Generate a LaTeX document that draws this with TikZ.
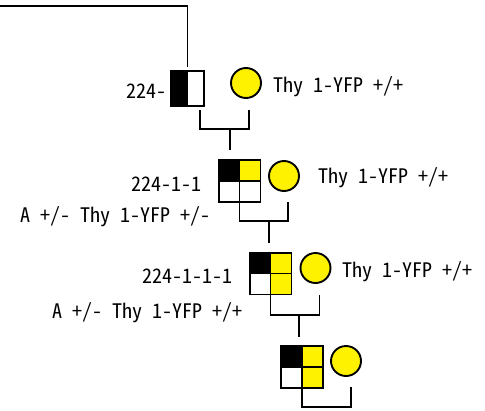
\documentclass[tikz,border=0pt]{standalone}
\usepackage{fontspec}
\newfontfamily\jpfont[RawFeature=+hwid]{Noto Sans CJK JP}
\begin{document}
\begin{tikzpicture}[x=1pt,y=-1pt,line width=1.9pt,
  every node/.style={font=\jpfont\fontsize{20}{24}\selectfont,inner sep=0pt},
  male/.style={rectangle,minimum size=40pt},
  female/.style={draw,circle,fill=yellow,minimum size=30pt}]
\useasboundingbox (0,0) rectangle (485,410);
% first generation
\node[male,minimum width=31pt,minimum height=33pt] (m1) at (187.5,88.5) {};
\fill (m1.north west) rectangle (m1.south);
\draw (m1.north west) rectangle (m1.south east);
\node[female] (f1) at (246,83) {};
\node[anchor=base east] at (167,98) {224-};
\node[anchor=base west] at (273,92) {Thy 1-YFP +/+};
\coordinate (origin) at (0,6);
\draw[shorten >=4pt] (origin) -| (m1.north);
\coordinate (j1) at (230,129);
\draw ([shift={(12.5,4)}]m1.south) |- (j1) -| ([shift={(3,11)}]f1.south);
% second generation
\node[male] (m2) at (239.5,181) {};
\fill (m2.north west) rectangle (m2.center);
\fill[yellow] (m2.north) rectangle (m2.east);
\draw (m2.north west) rectangle (m2.south east) (m2.north) -- (m2.south) (m2.west) -- (m2.east);
\node[female] (f2) at (284,176) {};
\node[anchor=base east] at (202,191) {224-1-1};
\node[anchor=base east] at (211,222) {A +/- Thy 1-YFP +/-};
\node[anchor=base west] at (318,183) {Thy 1-YFP +/+};
\draw[shorten >=10pt] (j1) -- (j1 |- m2.north);
\coordinate (j2) at (269,221);
\draw (m2.south) |- (j2) -| ([shift={(4,10)}]f2.south);
% third generation
\node[male] (m3) at (270.5,273.5) {};
\fill (m3.north west) rectangle (m3.center);
\fill[yellow] (m3.north) rectangle (m3.south east);
\draw (m3.north west) rectangle (m3.south east) (m3.north) -- (m3.south) (m3.west) -- (m3.east);
\node[female] (f3) at (315.5,268) {};
\node[anchor=base east] at (233,283) {224-1-1-1};
\node[anchor=base east] at (243,318) {A +/- Thy 1-YFP +/+};
\node[anchor=base west] at (342,277) {Thy 1-YFP +/+};
\draw[shorten >=10pt] (j2) -- (j2 |- m3.north);
\coordinate (j3) at (299,315);
\draw (m3.south) |- (j3) -| ([shift={(4,11)}]f3.south);
% fourth generation
\node[male] (m4) at (302,367) {};
\fill (m4.north west) rectangle (m4.center);
\fill[yellow] (m4.north) rectangle (m4.south east);
\draw (m4.north west) rectangle (m4.south east) (m4.north) -- (m4.south) (m4.west) -- (m4.east);
\node[female] (f4) at (346,361) {};
\draw[shorten >=9pt] (j3) -- (j3 |- m4.north);
\coordinate (j4) at (326,407);
\draw (m4.south) |- (j4) -| ([shift={(5,10)}]f4.south);
\end{tikzpicture}
\end{document}
